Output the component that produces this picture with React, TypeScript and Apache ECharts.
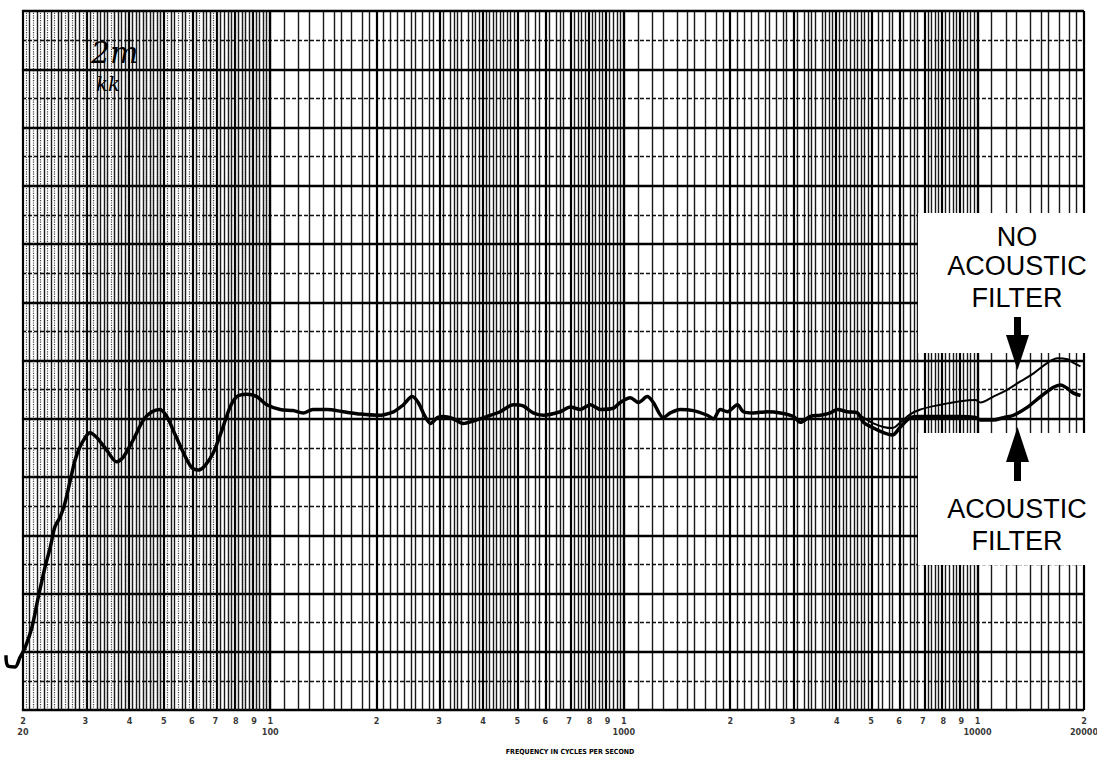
import React, { useEffect, useRef } from "react";
import * as echarts from "echarts";

// Response curve with acoustic filter (frequency in Hz, level in dB)
const acousticFreq = [
  17.9, 18.1, 19.0, 19.6, 20.3, 21.2, 22.1, 23.1, 23.9, 24.6, 25.5, 26.3, 27.2, 28.1, 29.0, 30.0, 30.9,
  32.3, 34.5, 36.8, 38.4, 41.0, 43.8, 46.3, 48.8, 51.0, 53.2, 56.8, 60.0, 62.7, 65.5, 69.1, 73.0,
  77.0, 80.5, 85.9, 91.6, 97.8, 106.7, 116, 124, 132, 145, 161, 180, 201, 223, 238, 252, 262, 274,
  284, 297, 309, 329, 351, 375, 411, 447, 487, 519, 554, 592, 661, 706, 753, 804, 858, 933, 977,
  1043, 1099, 1165, 1211, 1293, 1353, 1444, 1572, 1722, 1790, 1874, 1962, 2094, 2177, 2323, 2545,
  2771, 3015, 3155, 3368, 3594, 3836, 4016, 4286, 4574, 4756, 5077, 5418, 5745, 6053, 6461, 6896,
  7856, 8948, 9866, 10190, 11090, 11840, 12640, 13850, 15070, 16400, 17160, 17960, 18680, 19550,
];
const acousticDb = [
  -20.3, -21.2, -21.3, -20.5, -19.6, -17.9, -15.3, -12.7, -11.0, -9.3, -8.4, -7.2, -5.3, -3.5, -2.4, -1.6, -1.2,
  -1.6, -2.7, -3.7, -3.3, -1.8, -0.1, 0.6, 0.8, 0.2, -1.0, -2.9, -4.2, -4.4, -4.0, -2.9, -1.0,
  1.0, 1.9, 2.1, 1.9, 1.2, 0.8, 0.7, 0.5, 0.8, 0.8, 0.6, 0.4, 0.3, 0.6, 1.2, 1.9, 1.4, 0.2,
  -0.4, 0.1, 0.2, 0.0, -0.4, -0.2, 0.2, 0.6, 1.2, 1.1, 0.5, 0.3, 0.6, 1.0, 0.8, 1.2, 0.8, 0.9, 1.4,
  1.8, 1.4, 1.9, 1.4, 0.1, 0.5, 0.8, 0.7, 0.3, 0.0, 0.8, 0.6, 1.2, 0.6, 0.5, 0.6,
  0.5, 0.2, -0.3, 0.2, 0.3, 0.5, 0.8, 0.6, 0.5, -0.3, -0.8, -1.2, -1.4, -0.7, 0.1, 0.2,
  0.2, 0.2, 0.1, -0.1, -0.1, 0.1, 0.3, 1.0, 1.9, 2.7, 2.9, 2.6, 2.2, 2.0,
];

// Response curve without acoustic filter (where it departs from the other one)
const noFilterFreq = [
  4574, 4756, 5077, 5418, 5745, 6053, 6461, 6896, 7856, 8948, 9866, 10190, 11090, 12150, 13220,
  14400, 15770, 16830, 17960, 18680, 19550,
];
const noFilterDb = [
  0.5, 0.1, -0.4, -0.7, -0.8, -0.3, 0.4, 0.8, 1.2, 1.5, 1.6, 1.4, 1.9, 2.5, 3.2, 3.9, 4.8, 5.2, 5.1,
  4.8, 4.5,
];

// Frequency tick labels (digit on the paper, decade value underneath)
const tickFreqs = [
  20, 30, 40, 50, 60, 70, 80, 90, 100, 200, 300, 400, 500, 600, 700, 800, 900, 1000, 2000, 3000,
  4000, 5000, 6000, 7000, 8000, 9000, 10000, 20000,
];
const tickDigits = [
  "2", "3", "4", "5", "6", "7", "8", "9", "1", "2", "3", "4", "5", "6", "7", "8", "9", "1", "2", "3",
  "4", "5", "6", "7", "8", "9", "1", "2",
];
const tickDecades = [
  "20", "", "", "", "", "", "", "", "100", "", "", "", "", "", "", "", "", "1000", "", "", "", "",
  "", "", "", "", "10000", "20000",
];
const axisTitle = "FREQUENCY IN CYCLES PER SECOND";
const noFilterText = ["NO", "ACOUSTIC", "FILTER"];
const filterText = ["ACOUSTIC", "FILTER"];
const handNotes = ["2m", "kk"];

const F_MIN = 20;
const F_MAX = 20000;
const lg = (f: number) => Math.log10(f);

// layout: the paper runs from x=23 (20 Hz) to x=1084 (20 kHz); the axis starts a bit
// further left so that the pen's start-up hook (below 20 Hz) can be drawn.
const PAPER_LEFT = 23;
const PAPER_RIGHT = 1084;
const AXIS_LEFT = 4;
const DEC_PX = (PAPER_RIGHT - PAPER_LEFT) / (lg(F_MAX) - lg(F_MIN));
const AXIS_MIN = lg(F_MIN) - (PAPER_LEFT - AXIS_LEFT) / DEC_PX;

function buildVerticalLines() {
  const out: any[] = [];
  const bases = [10, 100, 1000, 10000];
  const add = (f: number, kind: string) => {
    if (f >= F_MIN - 1e-6 && f <= F_MAX + 1e-6) out.push({ f, kind });
  };
  for (const b of bases) {
    for (let i = 10; i <= 100; i++) {
      const f = (b * i) / 10;
      if (i % 10 === 0) {
        add(f, "major");
      } else if (i < 50 || i % 2 === 0) {
        add(f, "minor");
      }
    }
    if (b === 10) {
      for (let i = 20; i < 50; i++) add((b * (i + 0.5)) / 10, "fine");
      for (let i = 51; i < 100; i += 2) add((b * i) / 10, "fine");
    }
  }
  return out;
}

const lineStyles: Record<string, any> = {
  major: { color: "#000", width: 2.2, type: "solid", opacity: 1 },
  minor: { color: "#000", width: 1.4, type: "solid", opacity: 0.9 },
  fine: { color: "#222", width: 1.2, type: "dotted", opacity: 0.85 },
};

export default function App() {
  const ref = useRef<HTMLDivElement>(null);

  useEffect(() => {
    if (!ref.current) return;
    const chart = echarts.init(ref.current, null, { renderer: "svg" });

    const vLines = buildVerticalLines().map((l) => ({
      xAxis: lg(l.f),
      lineStyle: lineStyles[l.kind],
    }));

    const textFont = '"Liberation Sans", Arial, sans-serif';
    const textItem = (t: string, y: number) => ({
      type: "text",
      z: 102,
      x: 1017,
      y,
      style: {
        text: t,
        fill: "#000",
        fontSize: 27,
        fontFamily: textFont,
        align: "center",
        verticalAlign: "middle",
        textAlign: "center",
        textVerticalAlign: "middle",
      },
    });

    const option: any = {
      animation: false,
      backgroundColor: "#fff",
      grid: {
        left: AXIS_LEFT,
        right: 1097 - PAPER_RIGHT,
        top: 11,
        bottom: 50,
        show: false,
      },
      xAxis: {
        type: "value",
        min: AXIS_MIN,
        max: lg(F_MAX),
        axisLine: { show: false },
        axisTick: { show: false },
        axisLabel: { show: false },
        splitLine: { show: false },
      },
      yAxis: {
        type: "value",
        min: -25,
        max: 35,
        interval: 5,
        axisLine: { show: false },
        axisTick: { show: false },
        axisLabel: { show: false },
        splitLine: { show: true, lineStyle: { color: "#000", width: 2.4 } },
        minorTick: { show: false, splitNumber: 2 },
        minorSplitLine: { show: true, lineStyle: { color: "#111", width: 1.3, type: [4, 2] } },
      },
      series: [
        {
          type: "line",
          name: "paper",
          data: [[lg(F_MIN), -25]],
          symbol: "none",
          lineStyle: { opacity: 0 },
          silent: true,
          z: 1,
          markLine: {
            silent: true,
            symbol: ["none", "none"],
            label: { show: false },
            animation: false,
            data: vLines,
          },
        },
        {
          type: "scatter",
          name: "ticks",
          data: tickFreqs.map((f) => [lg(f), -25]),
          symbolSize: 1,
          itemStyle: { color: "rgba(0,0,0,0)" },
          silent: true,
          z: 5,
          label: {
            show: true,
            position: "bottom",
            distance: 5,
            color: "#000",
            fontSize: 9,
            fontWeight: "bold",
            fontFamily: '"DejaVu Sans Condensed", "DejaVu Sans", sans-serif',
            lineHeight: 11,
            align: "center",
            formatter: (p: any) =>
              tickDigits[p.dataIndex] + (tickDecades[p.dataIndex] ? "\n" + tickDecades[p.dataIndex] : ""),
          },
        },
        {
          type: "line",
          name: "No acoustic filter",
          data: noFilterFreq.map((f, i) => [lg(f), noFilterDb[i]]),
          symbol: "none",
          smooth: 0.35,
          clip: false,
          lineStyle: { color: "#000", width: 2 },
          z: 6,
        },
        {
          type: "line",
          name: "Acoustic filter",
          data: acousticFreq.map((f, i) => [lg(f), acousticDb[i]]),
          symbol: "none",
          smooth: 0.3,
          clip: false,
          lineStyle: { color: "#000", width: 3.5 },
          z: 7,
        },
      ],
      graphic: [
        // blank margin left of the paper (covers the axis lead-in below 20 Hz)
        { type: "rect", z: 4, shape: { x: 0, y: 0, width: PAPER_LEFT - 1.1, height: 712 }, style: { fill: "#fff" } },
        { type: "rect", z: 100, shape: { x: 918, y: 213, width: 179, height: 140 }, style: { fill: "#fff" } },
        { type: "rect", z: 100, shape: { x: 918, y: 433, width: 179, height: 132 }, style: { fill: "#fff" } },
        textItem(noFilterText[0], 237),
        textItem(noFilterText[1], 266),
        textItem(noFilterText[2], 298),
        textItem(filterText[0], 509),
        textItem(filterText[1], 541),
        { type: "rect", z: 103, shape: { x: 1014, y: 317, width: 7, height: 20 }, style: { fill: "#000" } },
        {
          type: "polygon",
          z: 103,
          shape: { points: [[1006, 335], [1029, 335], [1017.5, 370]] },
          style: { fill: "#000" },
        },
        { type: "rect", z: 103, shape: { x: 1014, y: 460, width: 7, height: 21 }, style: { fill: "#000" } },
        {
          type: "polygon",
          z: 103,
          shape: { points: [[1017.5, 427], [1006, 462], [1029, 462]] },
          style: { fill: "#000" },
        },
        {
          type: "text",
          z: 102,
          x: 570,
          y: 752,
          style: {
            text: axisTitle,
            fill: "#000",
            fontSize: 7,
            fontWeight: "bold",
            fontFamily: '"DejaVu Sans Condensed", "DejaVu Sans", sans-serif',
            align: "center",
            verticalAlign: "middle",
            textAlign: "center",
            textVerticalAlign: "middle",
          },
        },
        {
          type: "text",
          z: 102,
          x: 91,
          y: 52,
          style: {
            text: handNotes[0],
            fill: "#000",
            fontSize: 30,
            fontStyle: "italic",
            fontFamily: '"DejaVu Serif", serif',
            verticalAlign: "middle",
            textVerticalAlign: "middle",
          },
        },
        {
          type: "text",
          z: 102,
          x: 96,
          y: 84,
          style: {
            text: handNotes[1],
            fill: "#000",
            fontSize: 20,
            fontStyle: "italic",
            fontFamily: '"DejaVu Serif", serif',
            verticalAlign: "middle",
            textVerticalAlign: "middle",
          },
        },
      ],
    };

    chart.setOption(option);
    return () => chart.dispose();
  }, []);

  return (
    <div
      ref={ref}
      style={{ position: "absolute", left: 0, top: 0, width: 1097, height: 760, background: "#fff" }}
    />
  );
}
